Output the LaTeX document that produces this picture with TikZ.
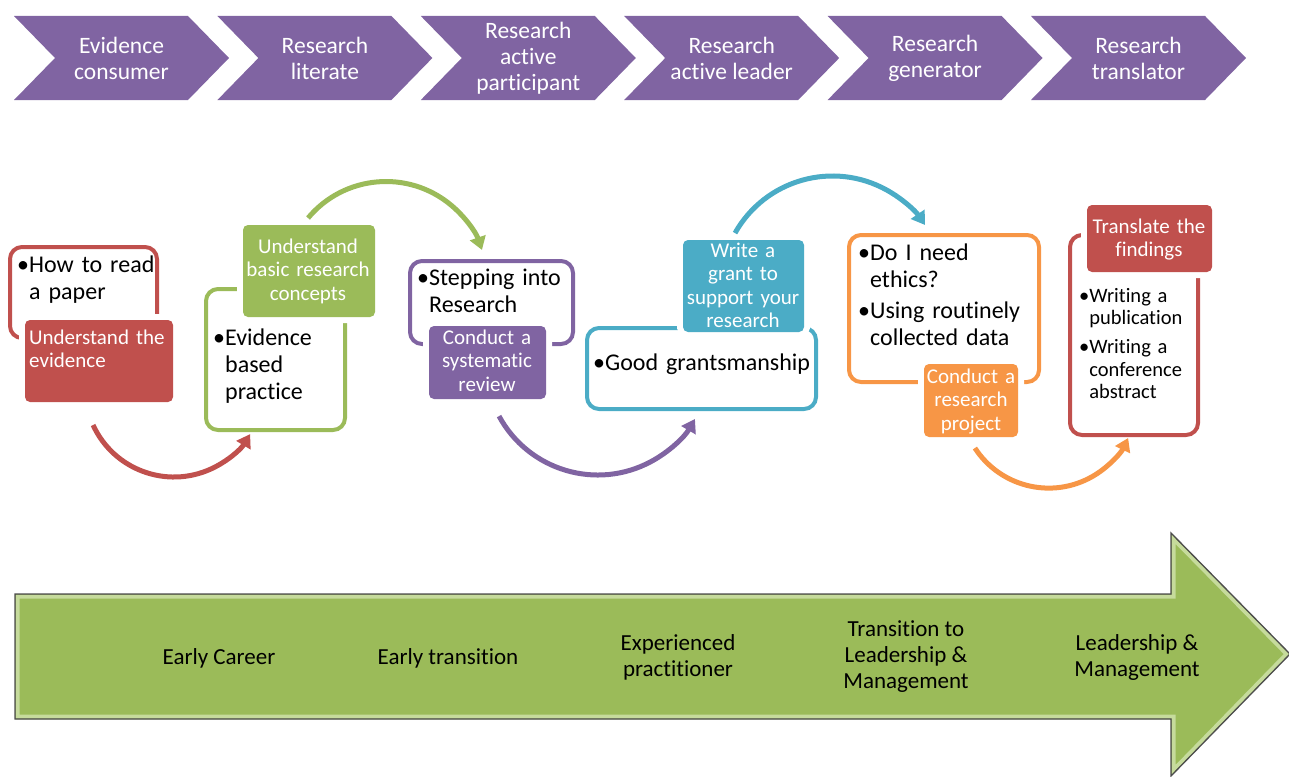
\documentclass[tikz,border=0pt]{standalone}
\usepackage{fontspec}
\setmainfont{Carlito}[Ligatures=NoCommon]
\usetikzlibrary{arrows.meta,calc}

\definecolor{ofpurple}{HTML}{8064A2}
\definecolor{ofred}{HTML}{C0504D}
\definecolor{ofgreen}{HTML}{9BBB59}
\definecolor{ofaqua}{HTML}{4BACC6}
\definecolor{oforange}{HTML}{F79646}
\definecolor{rimgreen}{HTML}{C6DB9C}
\definecolor{edgegray}{HTML}{4D4D4D}

\newcommand\bul{\textbullet}
\newcommand\hang{\phantom{\textbullet}}
\newcommand\careerpath{(15,594) -- (1171,594) -- (1171,533) -- (1290,654) -- (1171,776) -- (1171,719) -- (15,719) -- cycle}

\begin{document}
\begin{tikzpicture}[x=1pt,y=-1pt,
  stagetext/.style={text=white,font=\fontsize{23.5}{26}\selectfont,align=center,inner sep=0pt},
  outlinebox/.style={draw=#1,line width=4pt,rounded corners=12pt,inner sep=0pt},
  labelbox/.style={fill=#1,rounded corners=5pt,inner sep=0pt,preaction={draw=white,line width=12pt}},
  listtext/.style={anchor=base west,inner sep=0pt,align=left,text width=#1,font=\fontsize{24}{27}\selectfont},
  smalllist/.style={anchor=base west,inner sep=0pt,align=left,text width=#1,font=\fontsize{20.5}{22.5}\selectfont},
  labeltext/.style={anchor=base,inner sep=0pt,align=center,text width=#1,text=white,font=\fontsize{21}{23.5}\selectfont},
  curvearrow/.style={draw=#1,line width=5pt,-{Triangle[length=13pt,width=16pt]}},
  careertext/.style={align=center,inner sep=0pt,font=\fontsize{23}{26}\selectfont}
]
\useasboundingbox (0,0) rectangle (1289,776);

% ---- stages along the top ----
\foreach \i/\txt in {0/{Evidence\\consumer},1/{Research\\literate},2/{Research\\active\\participant},
                     3/{Research\\active leader},4/{Research\\generator},5/{Research\\translator}}{
  \pgfmathsetmacro\xo{14+203.4*\i}
  \fill[ofpurple] (\xo,16) -- ++(174,0) -- ++(41,42) -- ++(-41,42) -- ++(-174,0) -- ++(41,-42) -- cycle;
  \node[stagetext] (stage\i) at (\xo+107.5,58) {\txt};
}

% ---- 1: understand the evidence ----
\node[outlinebox=ofred,minimum width=147pt,minimum height=91pt] (readbox) at (83.5,292.5) {};
\node[listtext=150pt] (readtext) at (17,272) {\bul How to read\\\hang a paper};
\node[labelbox=ofred,minimum width=148pt,minimum height=82pt] (evidtag) at (99,361) {};
\node[labeltext=145pt,anchor=base west,align=left] (evidtext) at (29,344) {Understand the\\evidence};

% ---- 2: basic research concepts ----
\node[outlinebox=ofgreen,minimum width=139pt,minimum height=141pt] (ebpbox) at (275.5,359.5) {};
\node[listtext=130pt] (ebptext) at (213,345) {\bul Evidence\\\hang based\\\hang practice};
\node[labelbox=ofgreen,minimum width=132pt,minimum height=92pt] (concepttag) at (309,271) {};
\node[labeltext=132pt] (concepttext) at (308,253) {Understand\\basic research\\concepts};

% ---- 3: systematic review ----
\node[outlinebox=ofpurple,minimum width=163pt,minimum height=83pt] (stepbox) at (491.5,302.5) {};
\node[listtext=160pt] (steptext) at (417,285) {\bul Stepping into\\\hang Research};
\node[labelbox=ofpurple,minimum width=117pt,minimum height=73pt] (reviewtag) at (487.5,362.5) {};
\node[labeltext=117pt] (reviewtext) at (487,344) {Conduct a\\systematic\\review};

% ---- 4: grant writing ----
\node[outlinebox=ofaqua,minimum width=229pt,minimum height=81pt] (grantbox) at (701.5,368.5) {};
\node[listtext=230pt] (granttext) at (593,370) {\bul Good grantsmanship};
\node[labelbox=ofaqua,minimum width=121pt,minimum height=92pt] (granttag) at (743.5,286) {};
\node[labeltext=121pt] (granttagtext) at (743,257) {Write a\\grant to\\support your\\research};

% ---- 5: research project ----
\node[outlinebox=oforange,minimum width=190pt,minimum height=147pt] (ethicsbox) at (944,308.5) {};
\node[listtext=185pt] (ethicstext) at (858,260) {\bul Do I need\\\hang ethics?\\[4pt]\bul Using routinely\\\hang collected data};
\node[labelbox=oforange,minimum width=94pt,minimum height=73pt] (projecttag) at (971,400.5) {};
\node[labeltext=94pt] (projecttext) at (971,383) {Conduct a\\research\\project};

% ---- 6: translation ----
\node[outlinebox=ofred,minimum width=128pt,minimum height=200pt] (pubbox) at (1134,335) {};
\node[smalllist=120pt] (pubtext) at (1079,302) {\bul Writing a\\\hang publication\\[6.5pt]\bul Writing a\\\hang conference\\\hang abstract};
\node[labelbox=ofred,minimum width=125pt,minimum height=67pt] (translatetag) at (1149.5,238.5) {};
\node[labeltext=125pt] (translatetext) at (1149,233) {Translate the\\findings};

% ---- curved arrows between the steps ----
\coordinate (c1) at (174,388);
\coordinate (a1) at ($(c1)+(155.4:89)$);
\draw[curvearrow=ofred] (a1) arc[start angle=155.4,end angle=31.2,radius=89];

\coordinate (c2) at (386,283);
\coordinate (a2) at ($(c2)+(-140.2:101.5)$);
\draw[curvearrow=ofgreen] (a2) arc[start angle=-140.2,end angle=-19,radius=101.5];

\coordinate (c3) at (597.8,362.7);
\coordinate (a3) at ($(c3)+(151.6:112.3)$);
\draw[curvearrow=ofpurple] (a3) arc[start angle=151.6,end angle=30.1,radius=112.3];

\coordinate (c4) at (832.5,287.8);
\coordinate (a4) at ($(c4)+(-150.7:111.8)$);
\draw[curvearrow=ofaqua] (a4) arc[start angle=-150.7,end angle=-34.2,radius=111.8];

\coordinate (c5) at (1048.7,400.1);
\coordinate (a5) at ($(c5)+(147:88)$);
\draw[curvearrow=oforange] (a5) arc[start angle=147,end angle=25.5,radius=88];

% ---- career arrow ----
\fill[ofgreen] \careerpath;
\begin{scope}
  \clip \careerpath;
  \draw[rimgreen,line width=9pt,line join=miter] \careerpath;
  \draw[ofgreen!85!black,line width=1pt] \careerpath;
\end{scope}
\draw[edgegray,line width=1.3pt,line join=miter] \careerpath;

\node[careertext] (early) at (219,658) {Early Career};
\node[careertext] (earlytrans) at (448,658) {Early transition};
\node[careertext] (experienced) at (678,657) {Experienced\\practitioner};
\node[careertext] (translead) at (906,657) {Transition to\\Leadership \&\\Management};
\node[careertext] (leader) at (1137,657) {Leadership \&\\Management};
\end{tikzpicture}
\end{document}
